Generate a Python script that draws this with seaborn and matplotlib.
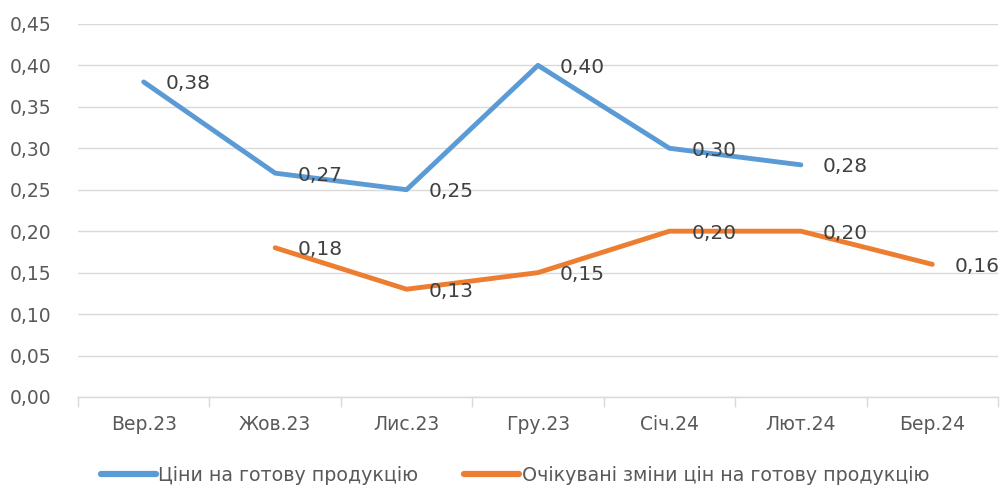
import numpy as np
import pandas as pd
import matplotlib
matplotlib.use("Agg")
import matplotlib.pyplot as plt
from matplotlib.ticker import FixedLocator, FuncFormatter
import seaborn as sns

categories = ["Вер.23", "Жов.23", "Лис.23", "Гру.23", "Січ.24", "Лют.24", "Бер.24"]
series1_name = "Ціни на готову продукцію"
series2_name = "Очікувані зміни цін на готову продукцію"
series1 = [0.38, 0.27, 0.25, 0.40, 0.30, 0.28, np.nan]
series2 = [np.nan, 0.18, 0.13, 0.15, 0.20, 0.20, 0.16]
y_ticks = [0.00, 0.05, 0.10, 0.15, 0.20, 0.25, 0.30, 0.35, 0.40, 0.45]

sns.set_theme(style="white")
plt.rcParams['font.family'] = ['DejaVu Sans']

blue = "#5B9BD5"
orange = "#ED7D31"

rows = []
for i, c in enumerate(categories):
    rows.append({"pos": i, "cat": c, "val": series1[i], "series": series1_name})
for i, c in enumerate(categories):
    rows.append({"pos": i, "cat": c, "val": series2[i], "series": series2_name})
df = pd.DataFrame(rows).dropna()

fig = plt.figure(figsize=(10, 4.88), dpi=100)
ax = fig.add_axes([0.078, 0.1865, 0.92, 0.7645])

sns.lineplot(data=df, x="pos", y="val", hue="series",
             palette={series1_name: blue, series2_name: orange},
             linewidth=3.5, sort=False, ax=ax, legend=True)

ax.set_xlim(-0.5, len(categories) - 0.5)
ax.set_ylim(0, 0.45)
ax.set_yticks(y_ticks)
ax.yaxis.set_major_formatter(FuncFormatter(lambda v, p: f"{v:.2f}".replace(".", ",")))
ax.set_xticks(range(len(categories)))
ax.set_xticklabels(categories)
ax.xaxis.set_minor_locator(FixedLocator(np.arange(-0.5, len(categories), 1.0)))
ax.tick_params(axis="x", which="major", length=0, pad=13, labelsize=13.5, colors="#595959")
ax.tick_params(axis="x", which="minor", length=7, width=1, color="#d9d9d9", bottom=True)
ax.tick_params(axis="y", length=0, pad=19, labelsize=13.5, colors="#595959")
ax.grid(axis="y", color="#d9d9d9", linewidth=1)
ax.set_axisbelow(True)
for s in ["top", "right", "left"]:
    ax.spines[s].set_visible(False)
ax.spines["bottom"].set_color("#d9d9d9")
ax.spines["bottom"].set_linewidth(1)
ax.set_xlabel("")
ax.set_ylabel("")

def lab(v):
    return f"{v:.2f}".replace(".", ",")

for vals in (series1, series2):
    for i, v in enumerate(vals):
        if not np.isnan(v):
            ax.annotate(lab(v), (i, v), xytext=(22, -2), textcoords="offset pixels",
                        ha="left", va="center", fontsize=14.5, color="#404040")

handles, labels = ax.get_legend_handles_labels()
leg = ax.legend(handles, labels, loc="center", bbox_to_anchor=(0.475, -0.210),
                ncol=2, frameon=False, fontsize=13.7, handlelength=2.9,
                columnspacing=2.4, handletextpad=0.12)
for t in leg.get_texts():
    t.set_color("#595959")
for h in leg.legend_handles:
    h.set_linewidth(4.5)

fig.savefig("out.png", dpi=100)
